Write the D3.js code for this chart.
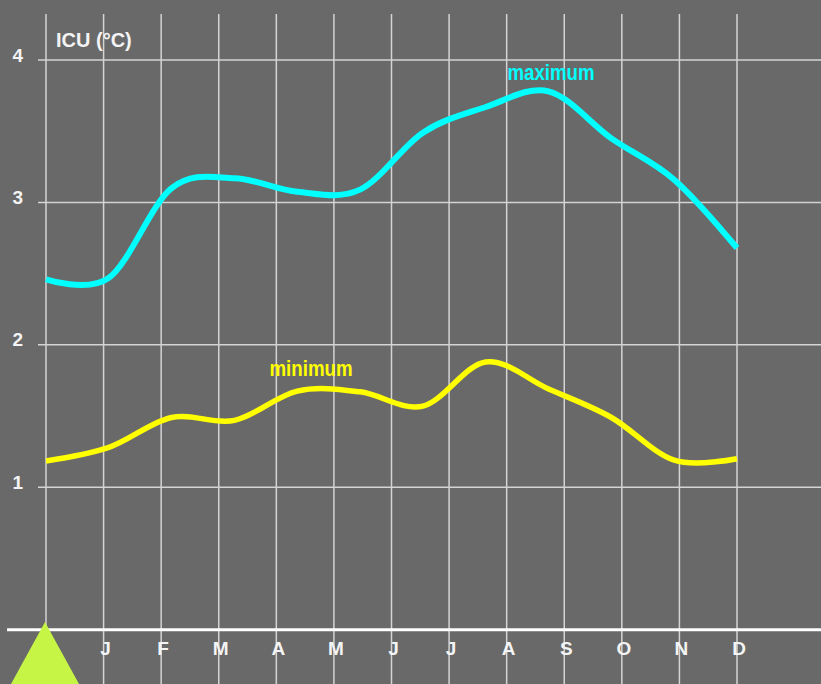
<!DOCTYPE html>
<html>
<head>
<meta charset="utf-8">
<script src="https://cdn.jsdelivr.net/npm/d3@7"></script>
<style>
  body { margin: 0; background: #696969; }
  svg { display: block; }
</style>
</head>
<body>
<div id="my_dataviz"></div>
<script>
// grid columns: the first is the unlabelled origin, then Jan..Dec
var months = ["", "J", "F", "M", "A", "M", "J", "J", "A", "S", "O", "N", "D"];
// monthly ICU values (12 months, spread over the full plot width)
var maxValues = [2.46, 2.47, 3.10, 3.17, 3.075, 3.09, 3.49, 3.67, 3.78, 3.45, 3.16, 2.68];
var minValues = [1.185, 1.28, 1.49, 1.47, 1.675, 1.67, 1.57, 1.88, 1.69, 1.49, 1.19, 1.20];
var yTicks = [1, 2, 3, 4];

var width = 821, height = 684;

var svg = d3.select("#my_dataviz")
  .append("svg")
  .attr("width", width)
  .attr("height", height)
  .style("font-family", "'Liberation Sans', Arial, sans-serif");

svg.append("rect")
  .attr("width", width)
  .attr("height", height)
  .attr("fill", "#696969");

// grid / label positions
var x = d3.scaleLinear()
  .domain([0, months.length - 1])
  .range([46, 737]);

// data positions
var xData = d3.scaleLinear()
  .domain([0, maxValues.length - 1])
  .range([46, 737]);

var y = d3.scaleLinear()
  .domain([0, 4])
  .range([629.7, 60]);

// horizontal grid
svg.append("g")
  .selectAll("line")
  .data(yTicks)
  .enter()
  .append("line")
  .attr("x1", 38)
  .attr("x2", width)
  .attr("y1", function(d) { return y(d); })
  .attr("y2", function(d) { return y(d); })
  .attr("stroke", "#d4d4d4")
  .attr("stroke-width", 1.5);

// vertical grid
svg.append("g")
  .selectAll("line")
  .data(months)
  .enter()
  .append("line")
  .attr("x1", function(d, i) { return x(i); })
  .attr("x2", function(d, i) { return x(i); })
  .attr("y1", 14)
  .attr("y2", height)
  .attr("stroke", "#d4d4d4")
  .attr("stroke-width", 1.5);

// baseline (y = 0)
svg.append("line")
  .attr("x1", 7)
  .attr("x2", width)
  .attr("y1", y(0))
  .attr("y2", y(0))
  .attr("stroke", "#ffffff")
  .attr("stroke-width", 3);

// y labels
svg.append("g")
  .selectAll("text")
  .data(yTicks)
  .enter()
  .append("text")
  .attr("x", 23)
  .attr("y", function(d) { return y(d) + 1.5; })
  .attr("text-anchor", "end")
  .attr("font-size", 19)
  .attr("font-weight", "bold")
  .attr("fill", "#f4f4f4")
  .text(function(d) { return d; });

// month labels
svg.append("g")
  .selectAll("text")
  .data(months)
  .enter()
  .append("text")
  .attr("x", function(d, i) { return x(i) + 2; })
  .attr("y", 655)
  .attr("text-anchor", "middle")
  .attr("font-size", 19)
  .attr("font-weight", "bold")
  .attr("fill", "#f4f4f4")
  .text(function(d) { return d; });

svg.append("text")
  .attr("x", 56)
  .attr("y", 47)
  .attr("font-size", 20)
  .attr("font-weight", "bold")
  .attr("fill", "#f4f4f4")
  .text("ICU (°C)");

var line = d3.line()
  .x(function(d, i) { return xData(i); })
  .y(function(d) { return y(d); })
  .curve(d3.curveCardinal.tension(0));

svg.append("path")
  .datum(maxValues)
  .attr("fill", "none")
  .attr("stroke", "#00ffff")
  .attr("stroke-width", 6)
  .attr("d", line);

svg.append("path")
  .datum(minValues)
  .attr("fill", "none")
  .attr("stroke", "#ffff00")
  .attr("stroke-width", 5.5)
  .attr("d", line);

svg.append("text")
  .attr("x", 551)
  .attr("y", 80)
  .attr("text-anchor", "middle")
  .attr("font-family", "'Liberation Sans Narrow', 'Liberation Sans', sans-serif")
  .attr("font-size", 22)
  .attr("font-weight", "bold")
  .attr("textLength", 87)
  .attr("lengthAdjust", "spacingAndGlyphs")
  .attr("fill", "#00ffff")
  .text("maximum");

svg.append("text")
  .attr("x", 311)
  .attr("y", 376)
  .attr("text-anchor", "middle")
  .attr("font-family", "'Liberation Sans Narrow', 'Liberation Sans', sans-serif")
  .attr("font-size", 22)
  .attr("font-weight", "bold")
  .attr("textLength", 83)
  .attr("lengthAdjust", "spacingAndGlyphs")
  .attr("fill", "#ffff00")
  .text("minimum");

// pointer triangle in the corner
svg.append("path")
  .attr("d", "M45,622 L79,684 L11,684 Z")
  .attr("fill", "#c6f546");
</script>
</body>
</html>
